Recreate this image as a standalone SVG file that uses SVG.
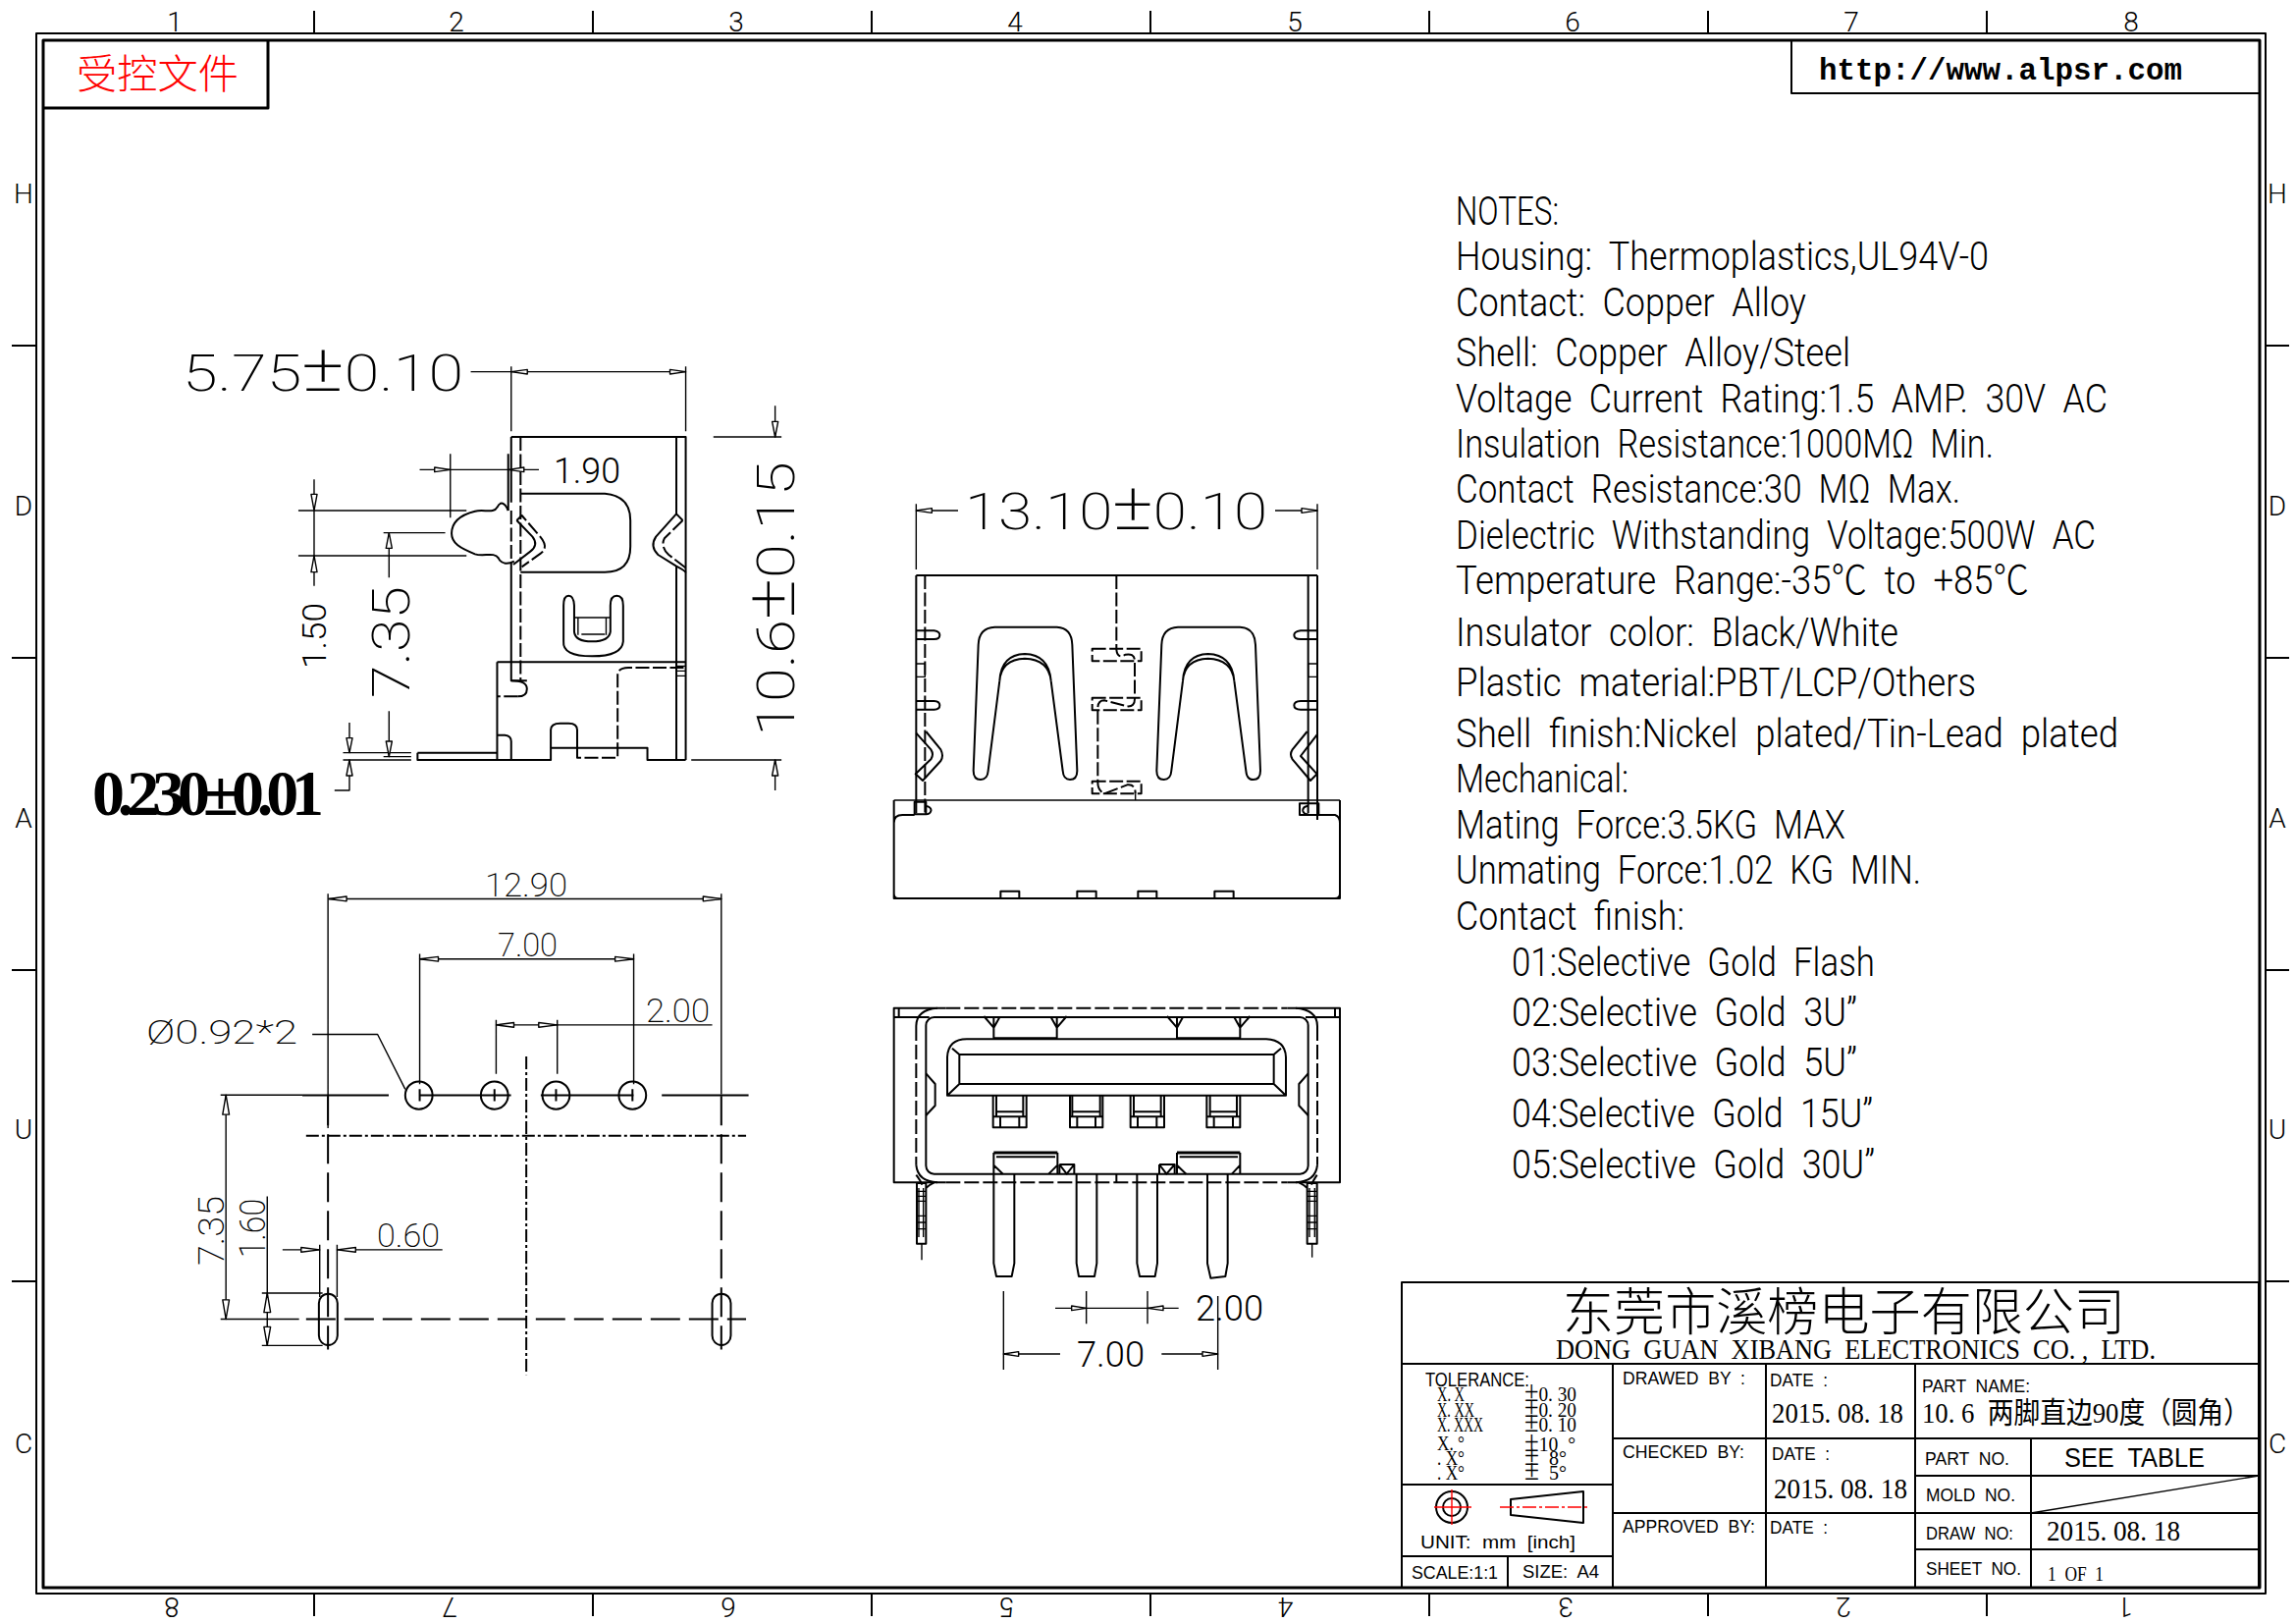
<svg xmlns="http://www.w3.org/2000/svg" width="2339" height="1653" viewBox="0 0 2339 1653">
<style>
text{white-space:pre;fill:#000}
.c{font-family:"Roboto","Noto Sans CJK SC","Liberation Sans",sans-serif;font-weight:300}
.g{font-weight:200}
.n{font-size:41px}
.b{font-family:"Liberation Sans",sans-serif}
.f{font-family:"Liberation Serif","Noto Sans CJK SC",serif}
.z{font-family:"Liberation Serif","Noto Sans CJK SC",serif;font-size:30px}
.k{font-family:"Noto Sans CJK SC",sans-serif;font-weight:300}
.l{font-size:19px}
.s,.t,.d,.e,.h,.a,.r{fill:none;stroke:#000;stroke-width:2;vector-effect:non-scaling-stroke;stroke-linejoin:round}
.t,.a{stroke-width:1.4}
.d{stroke-dasharray:14 3.5}
.e{stroke-dasharray:30 9}
.h{stroke-dasharray:13 3 3 3}
.a{fill:#fff}
.r{stroke:#f00;stroke-width:1.4}
</style>
<rect width="2339" height="1653" fill="#fff"/>

<g id="frame">
<rect class="s" x="37" y="34" width="2271" height="1589"/>
<rect class="s" style="stroke-width:3" x="44" y="41" width="2258" height="1576"/>
<path class="s" d="M320 11V33M604 11V33M888 11V33M1172 11V33M1456 11V33M1740 11V33M2024 11V33M320 1624V1646M604 1624V1646M888 1624V1646M1172 1624V1646M1456 1624V1646M1740 1624V1646M2024 1624V1646M12 352H36M12 670H36M12 988H36M12 1305H36M2309 352H2332M2309 670H2332M2309 988H2332M2309 1305H2332"/>
<g class="c" font-size="28" text-anchor="middle">
<text x="178" y="32">1</text><text x="465" y="32">2</text><text x="750" y="32">3</text><text x="1034" y="32">4</text><text x="1319" y="32">5</text><text x="1602" y="32">6</text><text x="1886" y="32">7</text><text x="2171" y="32">8</text>
<text transform="rotate(180 175 1627)" x="175" y="1627">8</text><text transform="rotate(180 458 1627)" x="458" y="1627">7</text><text transform="rotate(180 742 1627)" x="742" y="1627">6</text><text transform="rotate(180 1026 1627)" x="1026" y="1627">5</text><text transform="rotate(180 1310 1627)" x="1310" y="1627">4</text><text transform="rotate(180 1595 1627)" x="1595" y="1627">3</text><text transform="rotate(180 1878 1627)" x="1878" y="1627">2</text><text transform="rotate(180 2165 1627)" x="2165" y="1627">1</text>
<text x="24" y="207">H</text><text x="24" y="525">D</text><text x="24" y="843">A</text><text x="24" y="1160">U</text><text x="24" y="1480">C</text>
<text x="2320" y="207">H</text><text x="2320" y="525">D</text><text x="2320" y="843">A</text><text x="2320" y="1160">U</text><text x="2320" y="1480">C</text>
</g>
</g>

<g id="stamp">
<path class="s" style="stroke-width:3" d="M44 110H273V41"/>
<text class="k" x="78" y="90" font-size="41" textLength="165" lengthAdjust="spacingAndGlyphs" style="fill:#f00">受控文件</text>
</g>
<g id="website">
<path class="s" d="M1825 41V95H2302"/>
<text x="1853" y="81" font-family="Liberation Mono,monospace" font-weight="700" font-size="31" textLength="370" lengthAdjust="spacingAndGlyphs">http://www.alpsr.com</text>
</g>

<g id="notes" class="c n">
<text x="1483" y="229" textLength="105" lengthAdjust="spacingAndGlyphs">NOTES:</text>
<text x="1483" y="275" textLength="543" lengthAdjust="spacingAndGlyphs">Housing:  Thermoplastics,UL94V-0</text>
<text x="1483" y="322" textLength="357" lengthAdjust="spacingAndGlyphs">Contact:  Copper  Alloy</text>
<text x="1483" y="373" textLength="402" lengthAdjust="spacingAndGlyphs">Shell:  Copper  Alloy/Steel</text>
<text x="1483" y="420" textLength="664" lengthAdjust="spacingAndGlyphs">Voltage  Current  Rating:1.5  AMP.  30V  AC</text>
<text x="1483" y="466" textLength="548" lengthAdjust="spacingAndGlyphs">Insulation  Resistance:1000MΩ  Min.</text>
<text x="1483" y="512" textLength="514" lengthAdjust="spacingAndGlyphs">Contact  Resistance:30  MΩ  Max.</text>
<text x="1483" y="559" textLength="652" lengthAdjust="spacingAndGlyphs">Dielectric  Withstanding  Voltage:500W  AC</text>
<text x="1483" y="605" textLength="584" lengthAdjust="spacingAndGlyphs">Temperature  Range:-35℃  to  +85℃</text>
<text x="1483" y="658" textLength="451" lengthAdjust="spacingAndGlyphs">Insulator  color:  Black/White</text>
<text x="1483" y="709" textLength="530" lengthAdjust="spacingAndGlyphs">Plastic  material:PBT/LCP/Others</text>
<text x="1483" y="761" textLength="675" lengthAdjust="spacingAndGlyphs">Shell  finish:Nickel  plated/Tin-Lead  plated</text>
<text x="1483" y="807" textLength="176" lengthAdjust="spacingAndGlyphs">Mechanical:</text>
<text x="1483" y="854" textLength="397" lengthAdjust="spacingAndGlyphs">Mating  Force:3.5KG  MAX</text>
<text x="1483" y="900" textLength="474" lengthAdjust="spacingAndGlyphs">Unmating  Force:1.02  KG  MIN.</text>
<text x="1483" y="947" textLength="233" lengthAdjust="spacingAndGlyphs">Contact  finish:</text>
<text x="1540" y="994" textLength="370" lengthAdjust="spacingAndGlyphs">01:Selective  Gold  Flash</text>
<text x="1540" y="1045" textLength="352" lengthAdjust="spacingAndGlyphs">02:Selective  Gold  3U”</text>
<text x="1540" y="1096" textLength="352" lengthAdjust="spacingAndGlyphs">03:Selective  Gold  5U”</text>
<text x="1540" y="1148" textLength="368" lengthAdjust="spacingAndGlyphs">04:Selective  Gold  15U”</text>
<text x="1540" y="1200" textLength="370" lengthAdjust="spacingAndGlyphs">05:Selective  Gold  30U”</text>
</g>

<g id="title-block">
<path class="s" d="M1428 1306H2301V1617H1428ZM1428 1389H2301M1643 1389V1617M1799 1389V1617M1951 1389V1617M2069 1465V1617M1428 1512H1643M1428 1585H1643M1536 1585V1617M1643 1465H2301M1643 1541H2301M1951 1503H2301M1951 1578H2301"/>
<path class="t" d="M2069 1541L2301 1503"/>
<text class="k" x="1592" y="1355" font-size="52" textLength="573" lengthAdjust="spacingAndGlyphs">东莞市溪榜电子有限公司</text>
<text class="f" x="1585" y="1384" font-size="29" textLength="611" lengthAdjust="spacingAndGlyphs">DONG  GUAN  XIBANG  ELECTRONICS  CO. ,  LTD.</text>
<g class="b l">
<text x="1452" y="1412" font-size="20" textLength="106" lengthAdjust="spacingAndGlyphs">TOLERANCE:</text>
<text x="1447" y="1577" textLength="158" lengthAdjust="spacingAndGlyphs">UNIT:  mm  [inch]</text>
<text x="1438" y="1608" textLength="88" lengthAdjust="spacingAndGlyphs">SCALE:1:1</text>
<text x="1551" y="1607" textLength="78" lengthAdjust="spacingAndGlyphs">SIZE:  A4</text>
<text x="1653" y="1410" textLength="125" lengthAdjust="spacingAndGlyphs">DRAWED  BY  :</text>
<text x="1653" y="1485" textLength="124" lengthAdjust="spacingAndGlyphs">CHECKED  BY:</text>
<text x="1653" y="1561" textLength="135" lengthAdjust="spacingAndGlyphs">APPROVED  BY:</text>
<text x="1803" y="1412" textLength="59" lengthAdjust="spacingAndGlyphs">DATE  :</text>
<text x="1805" y="1487" textLength="59" lengthAdjust="spacingAndGlyphs">DATE  :</text>
<text x="1803" y="1562" textLength="59" lengthAdjust="spacingAndGlyphs">DATE  :</text>
<text x="1958" y="1418" textLength="110" lengthAdjust="spacingAndGlyphs">PART  NAME:</text>
<text x="1961" y="1492" textLength="86" lengthAdjust="spacingAndGlyphs">PART  NO.</text>
<text x="1962" y="1529" textLength="91" lengthAdjust="spacingAndGlyphs">MOLD  NO.</text>
<text x="1962" y="1568" textLength="89" lengthAdjust="spacingAndGlyphs">DRAW  NO:</text>
<text x="1962" y="1604" textLength="97" lengthAdjust="spacingAndGlyphs">SHEET  NO.</text>
<text x="2103" y="1494" font-size="27" textLength="143" lengthAdjust="spacingAndGlyphs">SEE  TABLE</text>
</g>
<g class="f" font-size="22">
<text x="1464" y="1427" textLength="28" lengthAdjust="spacingAndGlyphs">X. X</text>
<text x="1464" y="1443" textLength="38" lengthAdjust="spacingAndGlyphs">X. XX</text>
<text x="1464" y="1458" textLength="47" lengthAdjust="spacingAndGlyphs">X. XXX</text>
<text x="1464" y="1477" textLength="28" lengthAdjust="spacingAndGlyphs">X. °</text>
<text x="1464" y="1492" textLength="28" lengthAdjust="spacingAndGlyphs">. X°</text>
<text x="1464" y="1507" textLength="28" lengthAdjust="spacingAndGlyphs">. X°</text>
<text x="1553" y="1427" textLength="53" lengthAdjust="spacingAndGlyphs"><tspan font-size="30">±</tspan>0. 30</text>
<text x="1553" y="1443" textLength="53" lengthAdjust="spacingAndGlyphs"><tspan font-size="30">±</tspan>0. 20</text>
<text x="1553" y="1458" textLength="53" lengthAdjust="spacingAndGlyphs"><tspan font-size="30">±</tspan>0. 10</text>
<text x="1553" y="1478" textLength="52" lengthAdjust="spacingAndGlyphs"><tspan font-size="30">±</tspan>10  °</text>
<text x="1553" y="1492" textLength="43" lengthAdjust="spacingAndGlyphs"><tspan font-size="30">±</tspan>  8°</text>
<text x="1553" y="1507" textLength="43" lengthAdjust="spacingAndGlyphs"><tspan font-size="30">±</tspan>  5°</text>
</g>
<text class="z" x="1805" y="1449" textLength="134" lengthAdjust="spacingAndGlyphs">2015. 08. 18</text>
<text class="z" x="1807" y="1526" textLength="136" lengthAdjust="spacingAndGlyphs">2015. 08. 18</text>
<text class="z" x="2085" y="1569" textLength="136" lengthAdjust="spacingAndGlyphs">2015. 08. 18</text>
<text class="z" x="1958" y="1449" font-size="28" textLength="334" lengthAdjust="spacingAndGlyphs">10. 6  两脚直边90度（圆角）</text>
<text class="f" x="2086" y="1610" font-size="20" textLength="57" lengthAdjust="spacingAndGlyphs">1  OF  1</text>
<g id="projection-symbol">
<circle class="s" cx="1479" cy="1535" r="16"/><circle class="s" cx="1479" cy="1535" r="9"/>
<path class="s" d="M1539 1527L1613 1519V1551L1539 1543Z"/>
<path class="r" d="M1461 1535H1499M1479 1517V1553"/>
<path class="r" stroke-dasharray="14 3 3 3" d="M1528 1535H1618"/>
</g>
</g>

<g id="side-view" transform="translate(150 330) scale(.43365 .33333)">
<path class="s" d="M855 345H1265V1332M855 345V545M855 735V1090H892M1243 345V580M1243 740V1332M848 397V570"/>
<path class="d" d="M877 345V1090M855 570V735"/>
<path class="s" d="M877 518H1075Q1135 525 1135 600V680Q1135 758 1075 758H877"/>
<path class="s" d="M848 570C840 545 830 540 822 560C815 580 790 565 770 572C730 585 715 610 715 640C715 670 735 685 770 703C790 712 815 695 825 715C832 735 848 735 862 725"/>
<path class="d" d="M868 600L880 585L920 645Q945 680 925 700L880 742"/>
<path class="s" d="M868 600L905 650Q920 675 900 695L860 735"/>
<path class="s" d="M1258 600L1243 580L1195 650Q1180 680 1200 705L1243 740Q1265 755 1265 760"/>
<path class="d" d="M1258 600L1215 655Q1205 680 1225 705L1265 745"/>
<path class="s" d="M978 860Q978 830 990 830Q1002 830 1003 860V940Q1005 970 1045 970Q1085 970 1088 940V860Q1088 830 1103 830Q1118 830 1118 860V970Q1115 1015 1045 1015Q975 1015 978 970Z"/>
<path class="t" d="M1003 897H1088M1020 948H1075M1012 897V950M1078 897V950"/>
<path class="s" d="M822 1033H1265M822 1033V1332M635 1310H822M635 1310V1332H948V1295H1175V1332H1265M822 1256H840Q855 1258 855 1275V1332M855 1090Q892 1090 892 1115Q892 1138 870 1138"/>
<path class="s" d="M948 1295V1240Q948 1220 970 1220H990Q1010 1220 1010 1240V1295"/>
<path class="d" d="M870 1138H822M1010 1295V1325H1105V1075Q1105 1050 1130 1050H1265"/>
<path class="t" d="M1243 1045H1265M1243 1060H1265M1243 1075H1265"/>
<path class="t" d="M760 146H1265M855 130V328M1265 130V328M640 445H920M712 397V592M355 570H750M355 708H750M392 475V800M555 638H700M568 638V775M568 1183V1322M555 1322H620M460 1310H620M460 1332H620M475 1218V1310M475 1332V1425H440M1330 345H1490M1278 1332H1490M1475 250V345M1475 1332V1425"/>
<path class="a" d="M855 146L893 139V153ZM1265 146L1228 139V153ZM712 445L675 438V452ZM848 445L885 438V452ZM392 570L385 520H399ZM392 708L385 758H399ZM568 638L561 685H575ZM568 1322L561 1275H575ZM475 1310L468 1265H482ZM475 1332L468 1380H482ZM1475 345L1468 298H1482ZM1475 1332L1468 1380H1482Z"/>
</g>
<g id="side-view-labels" class="c">
<text class="g" x="186" y="398" font-size="52" textLength="286" lengthAdjust="spacingAndGlyphs">5.75<tspan font-size="66">±</tspan>0.10</text>
<text x="564" y="492" font-size="36" textLength="68" lengthAdjust="spacingAndGlyphs">1.90</text>
<text transform="rotate(-90 332 681)" x="332" y="681" font-size="34" textLength="67" lengthAdjust="spacingAndGlyphs">1.50</text>
<text class="g" transform="rotate(-90 417 711)" x="417" y="711" font-size="54" textLength="114" lengthAdjust="spacingAndGlyphs">7.35</text>
<text class="g" transform="rotate(-90 809 750)" x="809" y="750" font-size="54" textLength="280" lengthAdjust="spacingAndGlyphs">10.6<tspan font-size="68">±</tspan>0.15</text>
<text x="94" y="830" font-weight="700" font-size="66" textLength="236" lengthAdjust="spacing" style="font-family:'Liberation Serif',serif">0.230±0.01</text>
</g>

<g id="top-view" transform="translate(880 480) scale(.33333)">
<path class="s" d="M160 318H1386M160 318V1045M1386 318V1065M1358 318V1045"/>
<path class="d" d="M187 318V1045M772 318V545Q775 575 800 560Q828 555 828 580V695Q828 720 805 718L735 700Q715 700 715 725V950Q715 975 735 985L805 958Q830 955 830 985"/>
<path class="t" d="M830 985V1005M160 588H187V628H160M1386 588H1358V628H1386"/>
<path class="s" d="M160 487H215Q232 490 232 500Q232 513 215 513H160M160 702H215Q232 703 232 715Q232 728 215 728H160M1386 487H1335Q1315 490 1315 500Q1315 513 1335 513H1386M1386 702H1335Q1315 703 1315 715Q1315 728 1335 728H1386"/>
<path class="s" d="M190 795L235 850Q245 870 235 885L180 945L158 925L205 880Q215 865 205 850L160 800"/>
<path class="s" d="M1355 795L1310 850Q1300 865 1310 880L1365 945L1385 925L1335 870L1385 805"/>
<path class="s" d="M350 530Q352 478 400 476H590Q635 478 637 530L652 915Q652 942 630 942Q610 942 608 915L572 640Q565 575 492 572Q420 575 415 640L380 915Q378 942 357 942Q335 942 335 915ZM415 640Q420 560 492 558Q565 560 572 640"/>
<path class="s" transform="translate(560 0)" d="M350 530Q352 478 400 476H590Q635 478 637 530L652 915Q652 942 630 942Q610 942 608 915L572 640Q565 575 492 572Q420 575 415 640L380 915Q378 942 357 942Q335 942 335 915ZM415 640Q420 560 492 558Q565 560 572 640"/>
<path class="d" d="M698 542H848V580H698ZM698 692H848V730H698ZM698 947H848V985H698Z"/>
<path class="t" d="M92 1005H1455"/>
<path class="s" d="M92 1005V1305H1455V1005M92 1075Q92 1050 118 1050H155M1390 1050H1440Q1455 1055 1455 1075M92 1290Q92 1305 105 1305M1455 1290Q1455 1305 1440 1305M418 1305V1283H475V1305M652 1305V1283H710V1305M838 1305V1283H895V1305M1072 1305V1283H1130V1305"/>
<path class="s" d="M155 1010H190V1048H155ZM190 1022Q208 1028 205 1038Q202 1048 190 1048M1332 1015H1390V1050H1332ZM1358 1022Q1340 1025 1342 1038Q1345 1048 1358 1048M1386 1065V1050"/>
<path class="t" d="M160 100V300M1386 100V300M160 120H288M1257 120H1386"/>
<path class="a" d="M160 120L208 113V127ZM1386 120L1338 113V127Z"/>
</g>
<text class="c g" x="983" y="539" font-size="52" textLength="308" lengthAdjust="spacingAndGlyphs">13.10<tspan font-size="66">±</tspan>0.10</text>

<g id="front-view" transform="translate(880 1000) scale(.33333)">
<path class="s" d="M250 80H92V613H250M1295 80H1455V613H1295M107 80V108M1440 80V108M92 108H200M1350 108H1455"/>
<path class="e" style="stroke-dasharray:15 4" d="M250 80H1295M250 613H1295M160 135V560M1386 135V560"/>
<path class="s" d="M225 80Q160 85 160 135M160 560Q165 610 225 613M1320 80Q1386 85 1386 135M1386 560Q1381 610 1320 613"/>
<rect class="s" x="190" y="108" width="1168" height="479" rx="25"/>
<path class="s" d="M255 347V230Q258 175 315 175H1230Q1288 178 1290 230V347ZM292 222H1253V312H292ZM270 203L292 222M1275 203L1253 222M255 347L292 312M1290 347L1253 312"/>
<path class="s" d="M397 108H590V172H397ZM957 108H1150V172H957ZM367 105L397 140M620 105L590 140M927 105L957 140M1180 105L1150 140M415 108L397 140M572 108L590 140M975 108L957 140M1132 108L1150 140"/>
<g id="contacts">
<path class="s" d="M395 347V445H497V347M405 347V397H487V347M395 412H497M417 412V445M475 412V445M405 397V412M487 397V412"/>
<path class="s" d="M630 347V445H730V347M637 347V397H722V347M630 412H730M652 412V445M708 412V445M637 397V412M722 397V412"/>
<path class="s" d="M815 347V445H918V347M825 347V397H908V347M815 412H918M837 412V445M895 412V445M825 397V412M908 397V412"/>
<path class="s" d="M1048 347V445H1150V347M1058 347V397H1140V347M1048 412H1150M1070 412V445M1128 412V445M1058 397V412M1140 397V412"/>
</g>
<path class="s" style="stroke-width:3" d="M397 522H592M957 522H1150"/>
<path class="s" d="M397 522V587M592 522V587M957 522V587M1150 522V587M405 535H585M965 535H1143M397 560L425 587M592 560L565 587M957 560L985 587M1150 560L1125 587"/>
<path class="s" d="M598 558H643V587M598 558V587M598 558L620 587L643 558M903 558H950V587M903 558V587M903 558L925 587L950 558"/>
<path class="s" d="M190 280L218 312V378L190 408M1358 280L1330 312V378L1358 408"/>
<path class="s" d="M397 587V860L405 900H452L460 860V587M650 587V860L657 900H705L712 860V587M835 587V860L843 900H890L897 860V587M1050 587V860L1060 905L1105 900L1112 860V587M772 587V615"/>
<path class="s" d="M162 615H190V800H162ZM1355 615H1385V800H1355ZM160 590Q175 610 178 620M190 630Q200 620 215 613M1385 590Q1372 610 1368 620M1355 630Q1345 620 1330 613"/>
<path class="t" d="M162 640H190M162 655H190M162 670H190M162 715H190M162 735H190M162 755H190M168 630V780M182 630V780M1355 640H1385M1355 655H1385M1355 670H1385M1355 715H1385M1355 735H1385M1355 755H1385M1362 630V780M1378 630V780M177 800V850"/>
<path class="d" style="stroke-width:1.4" d="M1370 800V850"/>
<path class="t" d="M680 945V1045M867 945V1045M585 997H962M427 945V1185M1082 960V1185M427 1137H600M910 1137H1082"/>
<path class="a" d="M680 997L635 990V1004ZM867 997L915 990V1004ZM427 1137L473 1130V1144ZM1082 1137L1035 1130V1144Z"/>
</g>
<g id="front-view-labels" class="c" font-size="36">
<text x="1218" y="1345" textLength="69" lengthAdjust="spacingAndGlyphs">2.00</text>
<text x="1097" y="1392" textLength="69" lengthAdjust="spacingAndGlyphs">7.00</text>
</g>

<g id="footprint" transform="translate(130 870) scale(.42088 .34435)">
<path class="t" d="M487 132H1437M485 117V810M1437 117V710M707 310H1225M707 295V680M1225 295V680M892 505H1415M892 490V650M1040 490V650M447 533H605L672 695M225 712H423M225 1375H415M238 712V1375M338 1012V1453M325 1298H472M325 1453H472M375 1170H465M507 1170H762M465 1155V1310M507 1155V1310"/>
<path class="a" d="M487 132L530 125V139ZM1437 132L1393 125V139ZM707 310L752 303V317ZM1225 310L1180 303V317ZM892 505L935 498V512ZM1040 505L995 498V512ZM238 712L230 770H246ZM238 1375L230 1318H246ZM338 1298L330 1355H346ZM338 1453L330 1398H346ZM465 1170L420 1163V1177ZM507 1170L552 1163V1177Z"/>
<ellipse class="s" cx="705" cy="713" rx="33" ry="41"/><ellipse class="s" cx="888" cy="713" rx="33" ry="41"/><ellipse class="s" cx="1037" cy="713" rx="33" ry="41"/><ellipse class="s" cx="1222" cy="713" rx="33" ry="41"/>
<path class="s" d="M423 713H632M707 713H928M1000 713H1225M1293 713H1503M707 695V730M888 695V730M1037 695V730M1222 695V730"/>
<path class="h" d="M432 833H1497M965 598V1540"/>
<path class="e" d="M432 1375H1497M485 715V1465M1437 715V1465"/>
<rect class="s" x="463" y="1300" width="45" height="152" rx="22" ry="28"/>
<rect class="s" x="1415" y="1300" width="45" height="152" rx="22" ry="28"/>
</g>
<g id="footprint-labels" class="c g">
<text x="494" y="913" font-size="33" textLength="84" lengthAdjust="spacingAndGlyphs">12.90</text>
<text x="507" y="974" font-size="33" textLength="61" lengthAdjust="spacingAndGlyphs">7.00</text>
<text x="658" y="1041" font-size="33" textLength="65" lengthAdjust="spacingAndGlyphs">2.00</text>
<text x="149" y="1063" font-size="34" textLength="154" lengthAdjust="spacingAndGlyphs">Ø0.92*2</text>
<text transform="rotate(-90 228 1289)" x="228" y="1289" font-size="36" textLength="71" lengthAdjust="spacingAndGlyphs">7.35</text>
<text transform="rotate(-90 270 1281)" x="270" y="1281" font-size="36" textLength="60" lengthAdjust="spacingAndGlyphs">1.60</text>
<text x="384" y="1270" font-size="33" textLength="64" lengthAdjust="spacingAndGlyphs">0.60</text>
</g>
</svg>
